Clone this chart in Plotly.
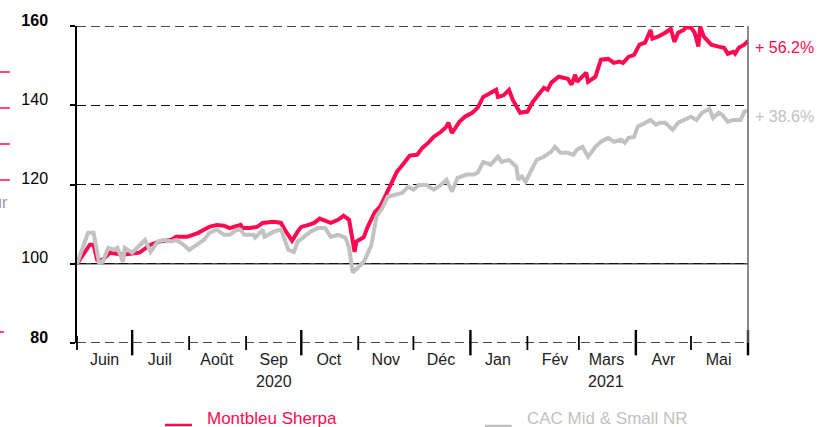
import plotly.graph_objects as go
import pandas as pd

# ---------------- data ----------------
sherpa_dates = [
    "2020-06-01", "2020-06-08", "2020-06-10", "2020-06-12", "2020-06-15", "2020-06-19", "2020-06-26",
    "2020-07-01", "2020-07-05", "2020-07-11", "2020-07-16", "2020-07-22", "2020-07-25", "2020-07-31",
    "2020-08-06", "2020-08-09", "2020-08-12", "2020-08-16", "2020-08-20", "2020-08-23", "2020-08-29",
    "2020-08-30", "2020-09-03", "2020-09-07", "2020-09-10", "2020-09-16", "2020-09-20", "2020-09-22",
    "2020-09-25", "2020-09-26", "2020-09-29", "2020-10-01", "2020-10-05", "2020-10-08", "2020-10-11",
    "2020-10-14", "2020-10-17", "2020-10-21", "2020-10-24", "2020-10-27", "2020-10-28", "2020-10-30",
    "2020-10-31", "2020-11-04", "2020-11-06", "2020-11-10", "2020-11-13", "2020-11-16", "2020-11-20",
    "2020-11-22", "2020-11-26", "2020-11-29", "2020-12-03", "2020-12-06", "2020-12-09", "2020-12-12",
    "2020-12-16", "2020-12-19", "2020-12-20", "2020-12-22", "2020-12-26", "2020-12-29", "2021-01-02",
    "2021-01-05", "2021-01-08", "2021-01-12", "2021-01-15", "2021-01-16", "2021-01-19", "2021-01-22",
    "2021-01-24", "2021-01-28", "2021-02-01", "2021-02-04", "2021-02-07", "2021-02-10", "2021-02-12",
    "2021-02-14", "2021-02-18", "2021-02-23", "2021-02-25", "2021-02-27", "2021-02-28", "2021-03-05",
    "2021-03-06", "2021-03-10", "2021-03-13", "2021-03-17", "2021-03-20", "2021-03-23", "2021-03-25",
    "2021-03-28", "2021-03-31", "2021-04-03", "2021-04-06", "2021-04-09", "2021-04-10", "2021-04-13",
    "2021-04-17", "2021-04-20", "2021-04-22", "2021-04-24", "2021-04-27", "2021-04-28", "2021-05-01",
    "2021-05-03", "2021-05-05", "2021-05-06", "2021-05-08", "2021-05-12", "2021-05-16", "2021-05-19",
    "2021-05-21", "2021-05-24", "2021-05-25", "2021-05-27", "2021-05-30", "2021-06-01",
]
sherpa_values = [
    100.0, 104.8, 104.8, 101.0, 101.0, 102.8, 102.3,
    102.5, 102.8, 104.8, 105.6, 106.0, 106.8, 106.8,
    107.8, 108.6, 109.3, 109.8, 109.6, 109.0, 109.8,
    109.0, 109.0, 109.3, 110.3, 110.6, 110.3, 108.6,
    106.8, 105.8, 108.1, 109.3, 109.8, 110.3, 111.4,
    110.9, 110.3, 111.1, 112.1, 111.1, 108.1, 103.0,
    105.6, 106.7, 109.2, 113.0, 114.5, 117.6, 121.2,
    123.2, 125.5, 127.3, 127.5, 129.3, 130.5, 132.0,
    133.3, 134.6, 135.6, 133.0, 135.8, 137.1, 138.1,
    139.4, 142.1, 143.2, 143.9, 142.1, 142.5, 143.9,
    141.4, 138.1, 138.4, 140.9, 142.6, 144.4, 143.9,
    145.7, 147.2, 146.7, 145.2, 147.7, 145.9, 148.2,
    145.9, 147.2, 151.5, 151.7, 150.7, 151.0, 150.7,
    152.2, 152.7, 155.3, 155.8, 159.0, 156.8, 157.3,
    158.3, 159.3, 156.0, 158.3, 159.0, 159.6, 159.6,
    158.3, 154.8, 159.8, 157.3, 155.3, 154.8, 154.5,
    153.0, 153.5, 153.0, 154.5, 155.3, 156.2,
]

cac_dates = [
    "2020-06-01", "2020-06-07", "2020-06-10", "2020-06-13", "2020-06-15", "2020-06-18", "2020-06-21",
    "2020-06-23", "2020-06-26", "2020-06-27", "2020-07-01", "2020-07-05", "2020-07-08", "2020-07-11",
    "2020-07-15", "2020-07-18", "2020-07-22", "2020-07-25", "2020-07-29", "2020-08-01", "2020-08-05",
    "2020-08-09", "2020-08-12", "2020-08-16", "2020-08-20", "2020-08-23", "2020-08-27", "2020-08-29",
    "2020-08-31", "2020-09-05", "2020-09-06", "2020-09-10", "2020-09-11", "2020-09-16", "2020-09-20",
    "2020-09-22", "2020-09-24", "2020-09-27", "2020-09-29", "2020-10-02", "2020-10-06", "2020-10-10",
    "2020-10-14", "2020-10-17", "2020-10-21", "2020-10-25", "2020-10-27", "2020-10-29", "2020-11-01",
    "2020-11-04", "2020-11-08", "2020-11-11", "2020-11-14", "2020-11-17", "2020-11-21", "2020-11-25",
    "2020-11-28", "2020-12-01", "2020-12-04", "2020-12-08", "2020-12-12", "2020-12-16", "2020-12-19",
    "2020-12-22", "2020-12-25", "2020-12-30", "2021-01-03", "2021-01-05", "2021-01-08", "2021-01-12",
    "2021-01-16", "2021-01-18", "2021-01-22", "2021-01-26", "2021-01-27", "2021-01-29", "2021-01-31",
    "2021-02-03", "2021-02-06", "2021-02-10", "2021-02-14", "2021-02-16", "2021-02-19", "2021-02-23",
    "2021-02-26", "2021-02-28", "2021-03-03", "2021-03-06", "2021-03-10", "2021-03-13", "2021-03-17",
    "2021-03-20", "2021-03-24", "2021-03-26", "2021-03-28", "2021-03-31", "2021-04-02", "2021-04-05",
    "2021-04-09", "2021-04-12", "2021-04-14", "2021-04-17", "2021-04-21", "2021-04-24", "2021-04-27",
    "2021-05-01", "2021-05-04", "2021-05-07", "2021-05-11", "2021-05-13", "2021-05-16", "2021-05-18",
    "2021-05-21", "2021-05-24", "2021-05-28", "2021-05-30", "2021-06-01",
]
cac_values = [
    100.0, 107.8, 107.8, 100.3, 100.5, 104.0, 103.5,
    104.0, 100.5, 104.0, 102.8, 104.8, 106.0, 103.0,
    105.6, 106.0, 105.6, 106.0, 104.8, 103.5, 104.8,
    106.0, 107.8, 108.6, 107.3, 107.3, 108.6, 108.6,
    107.3, 107.3, 106.6, 108.6, 106.8, 108.1, 108.6,
    106.0, 103.5, 103.0, 105.6, 106.6, 108.1, 109.0,
    109.0, 106.8, 107.3, 106.6, 104.0, 97.8, 99.0,
    100.5, 104.5, 112.0, 114.0, 116.9, 117.4, 117.9,
    119.4, 118.7, 119.9, 119.9, 118.7, 119.9, 121.2,
    118.2, 121.7, 122.5, 122.5, 123.0, 125.7, 125.0,
    127.0, 125.7, 126.2, 124.5, 121.2, 122.0, 120.7,
    123.7, 126.2, 127.0, 128.3, 129.5, 128.0, 128.0,
    127.5, 128.8, 129.5, 127.0, 129.5, 130.8, 131.8,
    130.8, 131.3, 130.5, 131.8, 132.0, 134.6, 135.3,
    136.3, 135.1, 135.6, 135.6, 133.8, 135.6, 136.3,
    137.1, 136.3, 138.1, 139.1, 136.8, 138.1, 137.6,
    135.8, 136.3, 136.3, 138.4, 138.6,
]

series_names = ["Montbleu Sherpa", "CAC Mid & Small NR"]
end_labels = ["+ 56.2%", "+ 38.6%"]
month_labels = ["Juin", "Juil", "Août", "Sep", "Oct", "Nov", "Déc",
                "Jan", "Fév", "Mars", "Avr", "Mai"]
year_labels = ["2020", "2021"]
y_ticks = [80, 100, 120, 140, 160]
y_ticktext = ["<b>80</b>", "100", "120", "140", "<b>160</b>"]

# ---------------- styles ----------------
RED = "#FF0A50"
GREY = "#C2C2C2"
FONT = "Liberation Sans, Arial, sans-serif"
DASH = "9px,5px"

X_START, X_END = pd.Timestamp("2020-06-01"), pd.Timestamp("2021-06-01")

fig = go.Figure()
fig.add_trace(go.Scatter(x=sherpa_dates, y=sherpa_values, mode="lines",
                         line=dict(color=RED, width=4), name=series_names[0],
                         showlegend=False))
fig.add_trace(go.Scatter(x=cac_dates, y=cac_values, mode="lines",
                         line=dict(color=GREY, width=4), name=series_names[1],
                         showlegend=False))

month_starts = pd.date_range(X_START, X_END, freq="MS")
month_mids = [d + pd.Timedelta(days=15) for d in month_starts[:-1]]
span = (X_END - X_START).days

shapes = []
# dashed lines at the range edges (plotly omits gridlines there)
for yv in (80, 160):
    shapes.append(dict(type="line", xref="paper", yref="y", x0=0, x1=1, y0=yv, y1=yv,
                       line=dict(color="#111111", width=1.4, dash=DASH), layer="between"))
# month boundary ticks crossing the bottom edge (paper coords so they are not clipped)
for d in month_starts:
    is_long = (d.month in (7, 10, 1, 4)) or (d == month_starts[-1])
    px = (d - X_START).days / span
    y0, y1 = ((-0.039, 0.041) if is_long else (-0.022, 0.022))
    shapes.append(dict(type="line", xref="paper", yref="paper", x0=px, x1=px, y0=y0, y1=y1,
                       line=dict(color="black", width=2.4 if is_long else 1.8), layer="above"))
# solid 100 baseline
shapes.append(dict(type="line", xref="paper", yref="y", x0=0, x1=1, y0=100, y1=100,
                   line=dict(color="#444444", width=1.5), layer="between"))
# right border
shapes.append(dict(type="line", xref="paper", yref="paper", x0=1, x1=1, y0=0, y1=1,
                   line=dict(color="#666666", width=1.5), layer="above"))
# legend samples
shapes.append(dict(type="line", xref="paper", yref="paper", x0=0.1311, x1=0.1714,
                   y0=-0.2587, y1=-0.2587, line=dict(color=RED, width=2.5)))
shapes.append(dict(type="line", xref="paper", yref="paper", x0=0.608, x1=0.648,
                   y0=-0.2618, y1=-0.2618, line=dict(color=GREY, width=2.5)))
# clipped fragments of a neighbouring chart at the left edge
for py in [72, 108, 144, 180]:
    yy = (343 - py) / 317
    shapes.append(dict(type="line", xref="paper", yref="paper", x0=-0.1148, x1=-0.1, y0=yy, y1=yy,
                       line=dict(color=RED, width=1.5)))
yy = (343 - 332) / 317
shapes.append(dict(type="line", xref="paper", yref="paper", x0=-0.1148, x1=-0.109, y0=yy, y1=yy,
                   line=dict(color=RED, width=1.5)))

annotations = [
    dict(x=sherpa_dates[-1], y=sherpa_values[-1], text=end_labels[0], showarrow=False,
         xanchor="left", yanchor="middle", xshift=5, yshift=-6,
         font=dict(family=FONT, size=16, color=RED)),
    dict(x=cac_dates[-1], y=cac_values[-1], text=end_labels[1], showarrow=False,
         xanchor="left", yanchor="middle", xshift=5, yshift=-6,
         font=dict(family=FONT, size=16, color=GREY)),
    dict(x=0.1908, y=-0.2397, xref="paper", yref="paper", text=series_names[0], showarrow=False,
         xanchor="left", yanchor="middle", font=dict(family=FONT, size=17, color=RED)),
    dict(x=0.6677, y=-0.2397, xref="paper", yref="paper", text=series_names[1], showarrow=False,
         xanchor="left", yanchor="middle", font=dict(family=FONT, size=17, color=GREY)),
    dict(x=(10 - 77) / 671, y=(343 - 202) / 317, xref="paper", yref="paper", text="ur",
         showarrow=False, xanchor="right", yanchor="middle",
         font=dict(family=FONT, size=16, color="#999999")),
    dict(x=month_mids[3], y=-0.1215, xref="x", yref="paper", text=year_labels[0], showarrow=False,
         xanchor="center", yanchor="middle", font=dict(family=FONT, size=16, color="#222222")),
    dict(x=month_mids[9], y=-0.1215, xref="x", yref="paper", text=year_labels[1], showarrow=False,
         xanchor="center", yanchor="middle", font=dict(family=FONT, size=16, color="#222222")),
]

fig.update_layout(
    width=821, height=427,
    margin=dict(l=77, r=73, t=26, b=84, autoexpand=False),
    paper_bgcolor="white", plot_bgcolor="white",
    font=dict(family=FONT, size=16, color="black"),
    shapes=shapes, annotations=annotations,
    showlegend=False,
    xaxis=dict(type="date", range=[X_START, X_END],
               tickvals=month_mids, ticktext=month_labels,
               ticks="", showgrid=False, zeroline=False, showline=False,
               tickfont=dict(family=FONT, size=16, color="#222222"),
               ticklabelstandoff=5, fixedrange=True),
    yaxis=dict(range=[80, 160], tickvals=y_ticks, ticktext=y_ticktext,
               ticks="outside", ticklen=5, tickcolor="black", tickwidth=1.5,
               showline=True, linecolor="black", linewidth=1.5,
               showgrid=True, gridcolor="#111111", griddash=DASH, gridwidth=1.4,
               zeroline=False, ticklabelstandoff=19, ticklabelshift=-6,
               tickfont=dict(family=FONT, size=16, color="black"), fixedrange=True),
)

fig.write_html("out.html", post_script="document.body.style.margin='0px';",
               config={"displayModeBar": False})
